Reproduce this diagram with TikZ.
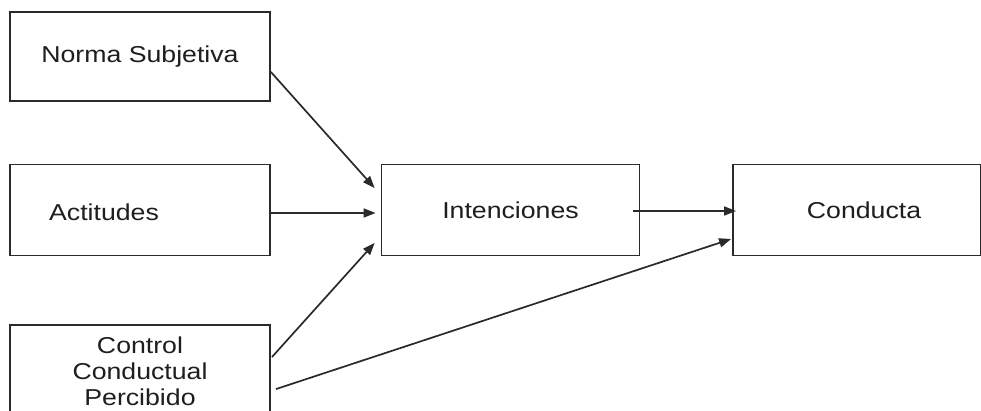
\documentclass[tikz,border=0pt]{standalone}
\usepackage{fontspec}
\setmainfont[FakeStretch=1.16]{Liberation Sans}
\usetikzlibrary{arrows.meta,calc}
\definecolor{linegray}{HTML}{2A2A2A}
\definecolor{textgray}{HTML}{1E1E1E}
\tikzset{
  box/.style={draw=linegray, line width=1.8pt, fill=white, inner sep=0pt,
    font=\fontsize{23}{26}\selectfont, text=textgray, align=center},
  lbl/.style={font=\fontsize{23}{26}\selectfont, text=textgray, inner sep=0pt},
  arr/.style={draw=linegray, line width=1.7pt, -{Triangle[length=12pt,width=9pt]}}
}
\begin{document}
\begin{tikzpicture}[x=1pt,y=-1pt]
\useasboundingbox (0,0) rectangle (981,411);
\clip (0,0) rectangle (981,411);
\fill[white] (0,0) rectangle (981,411);
\node[box, minimum width=260pt, minimum height=89pt] (ns) at (140,56.5) {Norma Subjetiva};
\node[box, minimum width=260pt, minimum height=91pt] (act) at (140,210) {};
\node[lbl] (actl) at (104,212) {Actitudes};
\node[box, minimum width=260pt, minimum height=92pt] (ccp) at (140,371) {Control\\Conductual\\Percibido};
\node[box, minimum width=258pt, minimum height=91pt] (int) at (510.5,210) {Intenciones};
\node[box, minimum width=248pt, minimum height=91pt] (con) at (857,210) {};
\node[lbl] (conl) at (864,210) {Conducta};
\draw[arr] ($(ns.east)+(0,15.5)$) -- ($(int.west)+(-6,-22)$);
\draw[arr] ($(act.east)+(0,3)$) -- ($(int.west)+(-5,3)$);
\draw[arr] ($(ccp.north east)+(1,33)$) -- ($(int.west)+(-6,33)$);
\draw[arr] ($(ccp.north east)+(5,65)$) -- ($(con.west)+(-1,29)$);
\draw[arr] ($(int.east)+(-7,1)$) -- ($(con.west)+(4,1)$);
\end{tikzpicture}
\end{document}
